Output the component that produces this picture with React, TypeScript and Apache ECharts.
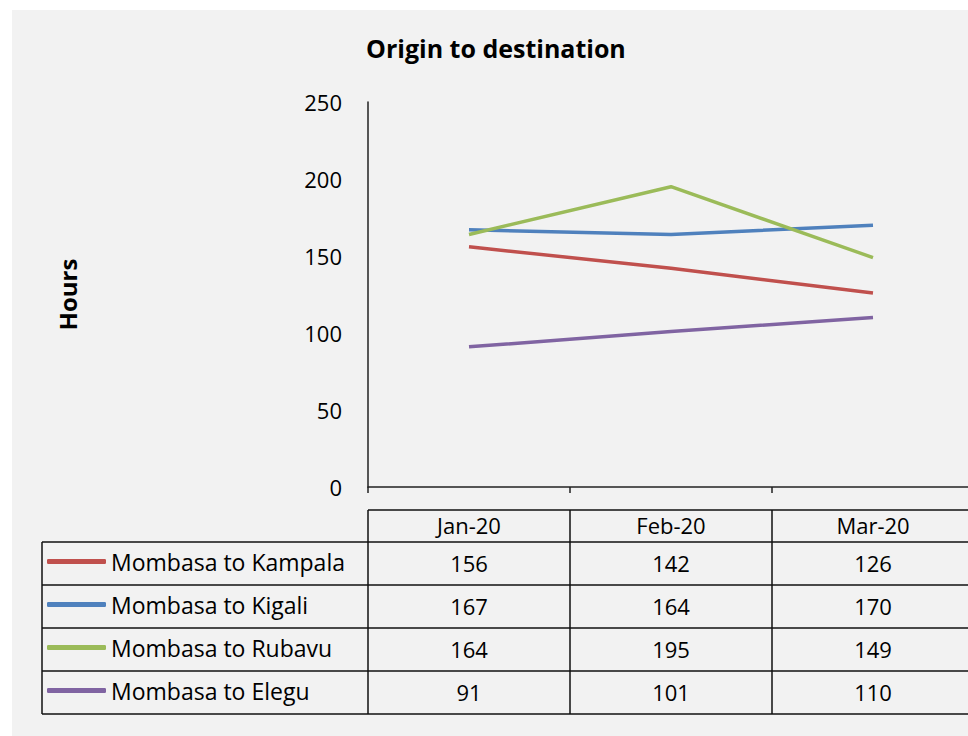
import React, { useEffect, useRef } from "react";
import * as echarts from "echarts";

const categories = ["Jan-20", "Feb-20", "Mar-20"];
const seriesNames = [
  "Mombasa to Kampala",
  "Mombasa to Kigali",
  "Mombasa to Rubavu",
  "Mombasa to Elegu",
];
const kampala = [156, 142, 126];
const kigali = [167, 164, 170];
const rubavu = [164, 195, 149];
const elegu = [91, 101, 110];
const colors = ["#c0504d", "#4f81bd", "#9bbb59", "#8064a2"];
const yTicks = { min: 0, max: 250, interval: 50 };

const FONT = "'Open Sans', 'Noto Sans', sans-serif";

export default function App() {
  const ref = useRef<HTMLDivElement>(null);
  useEffect(() => {
    if (!ref.current) return;
    const chart = echarts.init(ref.current, null, { renderer: "svg" });
    const allData = [kampala, kigali, rubavu, elegu];
    const gridLeft = 368;
    const gridTop = 102;
    const gridW = 606;
    const gridH = 385;
    chart.setOption({
      animation: false,
      backgroundColor: "transparent",
      textStyle: { fontFamily: FONT },
      title: {
        text: "Origin to destination",
        left: 366,
        top: 35,
        padding: 0,
        textStyle: { fontSize: 25, fontWeight: "bold", color: "#000", fontFamily: FONT },
      },
      legend: {
        orient: "vertical",
        left: 47,
        top: 550,
        padding: 0,
        itemWidth: 59,
        itemHeight: 5,
        itemGap: 20,
        icon: "roundRect",
        data: seriesNames,
        selectedMode: false,
        textStyle: { fontSize: 23, lineHeight: 23, color: "#000", fontFamily: FONT },
      },
      grid: { left: gridLeft, top: gridTop, width: gridW, height: gridH },
      xAxis: {
        type: "category",
        data: categories,
        boundaryGap: true,
        axisLine: { show: true, lineStyle: { color: "#222", width: 1.5 } },
        axisTick: { show: true, length: 6, lineStyle: { color: "#222", width: 1.5 } },
        axisLabel: { margin: 27, fontSize: 22, color: "#000", fontFamily: FONT },
        splitLine: { show: false },
      },
      yAxis: {
        type: "value",
        min: yTicks.min,
        max: yTicks.max,
        interval: yTicks.interval,
        name: "Hours",
        nameLocation: "middle",
        nameRotate: 90,
        nameGap: 289,
        nameTextStyle: { fontSize: 24, fontWeight: "bold", color: "#000", fontFamily: FONT },
        axisLine: { show: true, lineStyle: { color: "#222", width: 1.5 } },
        axisTick: { show: false },
        axisLabel: { margin: 26, fontSize: 22, color: "#000", fontFamily: FONT },
        splitLine: { show: false },
      },
      series: allData.map((d, i) => ({
        name: seriesNames[i],
        type: "line",
        data: d,
        symbol: "none",
        color: colors[i],
        lineStyle: { width: 3.5, color: colors[i] },
      })),
    });

    // Data table built from axis positions
    const centers = categories.map(
      (c) => chart.convertToPixel({ xAxisIndex: 0 }, c) as number
    );
    const band = centers.length > 1 ? centers[1] - centers[0] : gridW;
    const bounds = [centers[0] - band / 2, ...centers.map((c) => c + band / 2)];
    const tableLeft = 42;
    const headerTop = 510;
    const headerBottom = 542;
    const rowH = 43;
    const rowBounds = seriesNames.map((_, i) => headerBottom + rowH * i);
    rowBounds.push(headerBottom + rowH * seriesNames.length);
    const tableBottom = rowBounds[rowBounds.length - 1];
    const right = bounds[bounds.length - 1];
    const lineStyle = { stroke: "#111", lineWidth: 1.5 };
    const elements: any[] = [
      {
        type: "rect",
        z: -10,
        silent: true,
        shape: { x: 12, y: 10, width: 1000, height: 740 },
        style: { fill: "#f2f2f2" },
      },
      {
        type: "line",
        shape: { x1: bounds[0], y1: headerTop, x2: right, y2: headerTop },
        style: lineStyle,
      },
    ];
    rowBounds.forEach((y) =>
      elements.push({
        type: "line",
        shape: { x1: tableLeft, y1: y, x2: right, y2: y },
        style: lineStyle,
      })
    );
    bounds.forEach((x) =>
      elements.push({
        type: "line",
        shape: { x1: x, y1: headerTop, x2: x, y2: tableBottom },
        style: lineStyle,
      })
    );
    elements.push({
      type: "line",
      shape: { x1: tableLeft, y1: headerBottom, x2: tableLeft, y2: tableBottom },
      style: lineStyle,
    });
    allData.forEach((d, r) => {
      d.forEach((v, c) => {
        elements.push({
          type: "text",
          x: centers[c],
          y: (rowBounds[r] + rowBounds[r + 1]) / 2 - 1,
          style: {
            text: String(v),
            fontSize: 22,
            fontFamily: FONT,
            fill: "#000",
            align: "center",
            verticalAlign: "middle",
          },
        });
      });
    });
    chart.setOption({ graphic: { elements } });
    return () => chart.dispose();
  }, []);
  return (
    <div
      style={{
        position: "absolute",
        left: 0,
        top: 0,
        width: 968,
        height: 736,
        overflow: "hidden",
        background: "#fff",
      }}
    >
      <div ref={ref} style={{ width: 1000, height: 736 }} />
    </div>
  );
}
